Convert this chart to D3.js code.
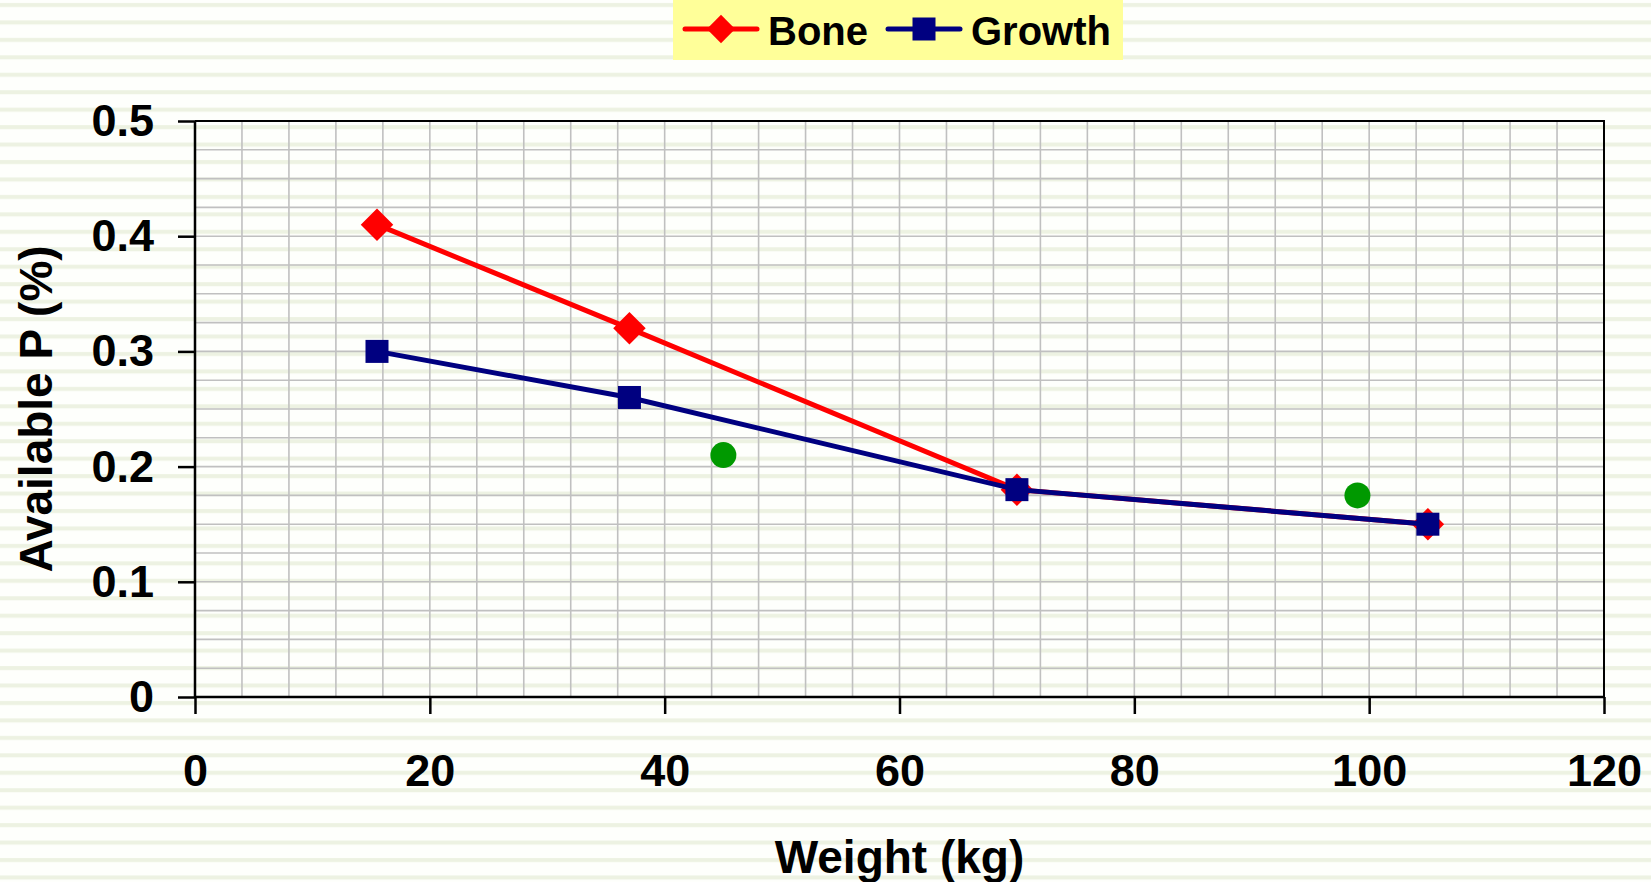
<!DOCTYPE html>
<html>
<head>
<meta charset="utf-8">
<script src="https://cdn.jsdelivr.net/npm/d3@7"></script>
<style>
  html, body { margin: 0; padding: 0; background: #fff; }
  svg { display: block; font-family: "Liberation Sans", Arial, sans-serif; font-weight: bold; }
</style>
</head>
<body>
<div id="chart"></div>
<script>
// ----------------------------DATA-------------------------------//
const boneWeight = [15.5, 37, 70, 105];
const boneP = [0.41, 0.32, 0.18, 0.15];
const growthWeight = [15.5, 37, 70, 105];
const growthP = [0.30, 0.26, 0.18, 0.15];
const extraWeight = [45, 99];
const extraP = [0.21, 0.175];
const xTicks = [0, 20, 40, 60, 80, 100, 120];
const yTicks = [0, 0.1, 0.2, 0.3, 0.4, 0.5];
const legendNames = ['Bone', 'Growth'];

const width = 1651;
const height = 882;
const plot = { left: 195, right: 1604, top: 121, bottom: 697 };

const svg = d3.select('#chart').append('svg')
  .attr('width', width)
  .attr('height', height);

// striped background
const defs = svg.append('defs');
const pat = defs.append('pattern')
  .attr('id', 'stripes')
  .attr('patternUnits', 'userSpaceOnUse')
  .attr('width', 40)
  .attr('height', 17.45);
pat.append('rect').attr('width', 40).attr('height', 17.45).attr('fill', '#fefffc');
pat.append('rect').attr('y', 3).attr('width', 40).attr('height', 4).attr('fill', '#edf2e2');

svg.append('rect')
  .attr('width', width)
  .attr('height', height)
  .attr('fill', 'url(#stripes)');

// ----------------------------SCALES-----------------------------//
const x = d3.scaleLinear().domain([0, 120]).range([plot.left, plot.right]);
const y = d3.scaleLinear().domain([0, 0.5]).range([plot.bottom, plot.top]);

// -----------------------------GRID------------------------------//
const grid = svg.append('g').attr('stroke', '#c0c0c0').attr('stroke-width', 1.6);
grid.selectAll('.vg')
  .data(d3.range(4, 120, 4))
  .enter().append('line')
  .attr('x1', d => x(d)).attr('x2', d => x(d))
  .attr('y1', plot.top).attr('y2', plot.bottom);
grid.selectAll('.hg')
  .data(d3.range(1, 20).map(i => i * 0.025))
  .enter().append('line')
  .attr('y1', d => y(d)).attr('y2', d => y(d))
  .attr('x1', plot.left).attr('x2', plot.right);

// plot border top/right
svg.append('path')
  .attr('d', `M${plot.left},${plot.top}H${plot.right}V${plot.bottom}`)
  .attr('fill', 'none')
  .attr('stroke', '#000')
  .attr('stroke-width', 2);

// -----------------------------AXES------------------------------//
const xaxis = d3.axisBottom(x).tickValues(xTicks).tickSize(17).tickPadding(40).tickFormat(d3.format('d'));
const yaxis = d3.axisLeft(y).tickValues(yTicks).tickSize(17).tickPadding(24).tickFormat(d => d === 0 ? '0' : d3.format('.1f')(d));

const gx = svg.append('g')
  .attr('transform', `translate(0,${plot.bottom})`)
  .call(xaxis);
const gy = svg.append('g')
  .attr('transform', `translate(${plot.left},0)`)
  .call(yaxis);

[gx, gy].forEach(g => {
  g.select('.domain').attr('stroke', '#000').attr('stroke-width', 2.5);
  g.selectAll('.tick line').attr('stroke', '#000').attr('stroke-width', 2.5);
  g.selectAll('.tick text')
    .attr('fill', '#000')
    .style('font-size', '45px')
    .style('font-weight', 'bold')
    .style('font-family', '"Liberation Sans", Arial, sans-serif');
});
gx.select('.domain').attr('d', `M${plot.left},0H${plot.right}`);
gy.select('.domain').attr('d', `M0,${plot.top}V${plot.bottom}`);

svg.append('text')
  .attr('x', (plot.left + plot.right) / 2)
  .attr('y', 873)
  .attr('text-anchor', 'middle')
  .style('font-size', '46px')
  .text('Weight (kg)');

svg.append('text')
  .attr('transform', `translate(52,${(plot.top + plot.bottom) / 2}) rotate(-90)`)
  .attr('text-anchor', 'middle')
  .style('font-size', '46px')
  .text('Available P (%)');

// ----------------------------LINES------------------------------//
const line = d3.line().x(d => x(d[0])).y(d => y(d[1]));
const bone = boneWeight.map((w, i) => [w, boneP[i]]);
const growth = growthWeight.map((w, i) => [w, growthP[i]]);
const extra = extraWeight.map((w, i) => [w, extraP[i]]);

const diamond = (g, cx, cy, s) => g.append('rect')
  .attr('x', -s / 2).attr('y', -s / 2).attr('width', s).attr('height', s)
  .attr('transform', `translate(${cx},${cy}) rotate(45)`)
  .attr('fill', '#ff0000');
const square = (g, cx, cy, s) => g.append('rect')
  .attr('x', cx - s / 2).attr('y', cy - s / 2).attr('width', s).attr('height', s)
  .attr('fill', '#000080');

svg.append('path')
  .attr('d', line(bone))
  .attr('fill', 'none').attr('stroke', '#ff0000').attr('stroke-width', 5);
const boneMarks = svg.append('g');
bone.forEach(d => diamond(boneMarks, x(d[0]), y(d[1]), 23));

svg.append('path')
  .attr('d', line(growth))
  .attr('fill', 'none').attr('stroke', '#000080').attr('stroke-width', 5);
const growthMarks = svg.append('g');
growth.forEach(d => square(growthMarks, x(d[0]), y(d[1]), 23));

svg.append('g').selectAll('circle')
  .data(extra)
  .enter().append('circle')
  .attr('cx', d => x(d[0]))
  .attr('cy', d => y(d[1]))
  .attr('r', 13)
  .attr('fill', '#009900');

// ----------------------------LEGEND-----------------------------//
const legend = svg.append('g');
legend.append('rect')
  .attr('x', 673).attr('y', 0).attr('width', 450).attr('height', 60)
  .attr('fill', '#ffff99');
const items = [
  { name: legendNames[0], x0: 685, color: '#ff0000', mark: diamond, size: 20 },
  { name: legendNames[1], x0: 888, color: '#000080', mark: square, size: 23 },
];
items.forEach(it => {
  legend.append('line')
    .attr('x1', it.x0).attr('x2', it.x0 + 72)
    .attr('y1', 29).attr('y2', 29)
    .attr('stroke', it.color).attr('stroke-width', 5).attr('stroke-linecap', 'round');
  it.mark(legend, it.x0 + 36, 29, it.size);
  legend.append('text')
    .attr('x', it.x0 + 83).attr('y', 45)
    .style('font-size', '40px')
    .text(it.name);
});
</script>
</body>
</html>
